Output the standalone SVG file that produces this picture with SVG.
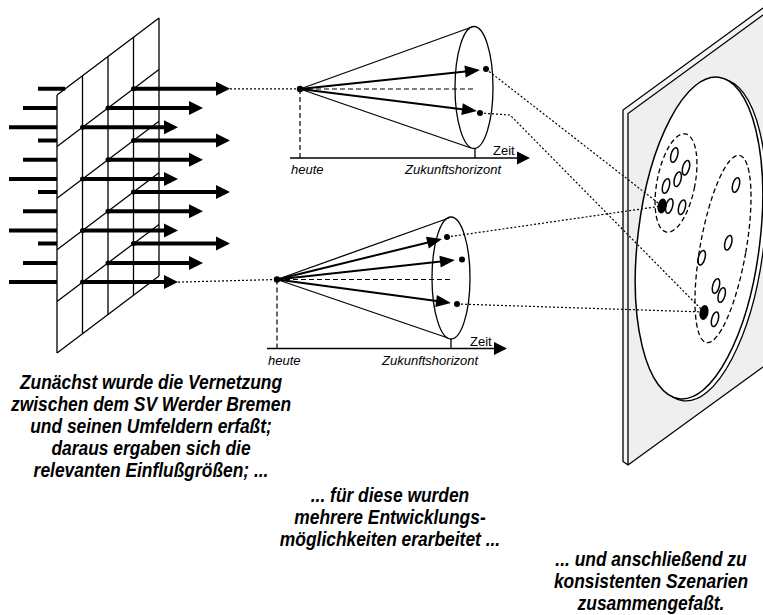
<svg xmlns="http://www.w3.org/2000/svg" width="763" height="615" viewBox="0 0 763 615">
<style>
.ln{stroke:#000;stroke-width:1.3;fill:none}
.thick{stroke:#000;stroke-width:4;fill:none}
.arr{stroke:#000;stroke-width:2;fill:none}
.dot{stroke:#000;stroke-width:1.2;stroke-dasharray:2 2;fill:none}
.dash{stroke:#000;stroke-width:1.2;stroke-dasharray:5 3;fill:none}
.cl{stroke:#000;stroke-width:1.3;stroke-dasharray:5 3;fill:none}
.sm{stroke:#000;stroke-width:1.5;fill:none}
.lbl{font-family:"Liberation Sans",Arial,sans-serif;font-size:13px;font-style:italic}
.zt{font-family:"Liberation Sans",Arial,sans-serif;font-size:13px}
.big{font-family:"Liberation Sans",Arial,sans-serif;font-size:20px;font-weight:bold;font-style:italic;text-anchor:middle}
</style>
<defs>
<marker id="bh" markerUnits="userSpaceOnUse" markerWidth="15" markerHeight="15" refX="4" refY="7" orient="auto" overflow="visible"><path d="M0,0 L14,7 L0,14 z" fill="#000"/></marker>
<marker id="ch" markerUnits="userSpaceOnUse" markerWidth="16" markerHeight="13" refX="10" refY="6" orient="auto" overflow="visible"><path d="M0,0 L15,6 L0,12 z" fill="#000"/></marker>
<marker id="xh" markerUnits="userSpaceOnUse" markerWidth="14" markerHeight="14" refX="5" refY="6.5" orient="auto" overflow="visible"><path d="M0,0 L13,6.5 L0,13 z" fill="#000"/></marker>
</defs>

<g id="grid">
  <path class="thick" d="M38,88.8H65.2 M23,108.1H57 M9,127.3H57 M38,140.4H57 M23,159.7H57 M9,179H57 M38,192H57 M23,211.3H57 M9,230.5H57 M38,243.6H57 M23,262.9H57 M9,282.1H57"/>
  <path class="ln" d="M57,95V353 M82.5,75.7V333.7 M108,56.5V314.5 M133.5,37.2V295.2 M159,18V276"/>
  <path class="ln" d="M57,95L159,18 M57,146.6L159,69.6 M57,198.2L159,121.2 M57,249.8L159,172.8 M57,301.4L159,224.4 M57,353L159,276"/>
  <g marker-end="url(#bh)">
    <path class="thick" d="M133.5,88.8H220"/>
    <path class="thick" d="M108,108.1H193"/>
    <path class="thick" d="M82.5,127.3H168"/>
    <path class="thick" d="M133.5,140.4H220"/>
    <path class="thick" d="M108,159.7H193"/>
    <path class="thick" d="M82.5,179H168"/>
    <path class="thick" d="M133.5,192H220"/>
    <path class="thick" d="M108,211.3H193"/>
    <path class="thick" d="M82.5,230.5H168"/>
    <path class="thick" d="M133.5,243.6H220"/>
    <path class="thick" d="M108,262.9H193"/>
    <path class="thick" d="M82.5,282.1H168"/>
  </g>
  <g fill="#000">
    <circle cx="133.5" cy="88.8" r="2.5"/><circle cx="108" cy="108.1" r="2.5"/><circle cx="82.5" cy="127.3" r="2.5"/>
    <circle cx="133.5" cy="140.4" r="2.5"/><circle cx="108" cy="159.7" r="2.5"/><circle cx="82.5" cy="179" r="2.5"/>
    <circle cx="133.5" cy="192" r="2.5"/><circle cx="108" cy="211.3" r="2.5"/><circle cx="82.5" cy="230.5" r="2.5"/>
    <circle cx="133.5" cy="243.6" r="2.5"/><circle cx="108" cy="262.9" r="2.5"/><circle cx="82.5" cy="282.1" r="2.5"/>
  </g>
</g>

<g id="cone-top">
  <ellipse class="ln" cx="474" cy="87.5" rx="19" ry="61"/>
  <path class="ln" d="M300,89L472,27 M300,89L471,148"/>
  <path class="dash" d="M300,89H473 M300,89V158"/>
  <path class="arr" d="M300,89L475,70.5" marker-end="url(#ch)"/>
  <path class="arr" d="M300,89L472,110.4" marker-end="url(#ch)"/>
  <circle cx="300" cy="89" r="3.2"/>
  <circle cx="486" cy="69" r="3"/>
  <circle cx="480" cy="113" r="3"/>
  <path class="ln" d="M475,148.5V158"/>
  <path stroke="#000" stroke-width="1.7" d="M290,158H522" marker-end="url(#xh)"/>
  <text class="zt" x="493" y="155">Zeit</text>
  <text class="lbl" x="291" y="174">heute</text>
  <text class="lbl" x="405" y="174">Zukunftshorizont</text>
</g>

<g id="cone-bottom">
  <ellipse class="ln" cx="451" cy="278" rx="19" ry="61"/>
  <path class="ln" d="M277,279.5L449,218 M277,279.5L448,338"/>
  <path class="dash" d="M277,279.5H450 M277,279.5V348.5"/>
  <path class="arr" d="M277,279.5L437.1,240.2" marker-end="url(#ch)"/>
  <path class="arr" d="M277,279.5L450,260.5" marker-end="url(#ch)"/>
  <path class="arr" d="M277,279.5L446,302.3" marker-end="url(#ch)"/>
  <circle cx="277" cy="279.5" r="3.2"/>
  <circle cx="447" cy="237" r="3"/>
  <circle cx="462" cy="259.5" r="3"/>
  <circle cx="457" cy="304" r="3"/>
  <path class="ln" d="M451,339V348.5"/>
  <path stroke="#000" stroke-width="1.7" d="M267,348.5H499" marker-end="url(#xh)"/>
  <text class="zt" x="470" y="345.5">Zeit</text>
  <text class="lbl" x="268" y="364.5">heute</text>
  <text class="lbl" x="382" y="364.5">Zukunftshorizont</text>
</g>

<g id="panel">
  <polygon points="628,113.5 763,15 763,367 628,465" fill="#efefef"/>
  <polygon points="623,110 628,113.5 628,465 623,461.5" fill="#f4f4f4"/>
  <polygon points="623,110 763,8 763,15 628,113.5" fill="#f4f4f4"/>
  <path class="ln" d="M763,8L623,110V461.5L628,465L763,367 M763,15L628,113.5V465"/>
  <ellipse cx="703" cy="240" rx="61" ry="162" transform="rotate(7 703 240)" fill="#fff" stroke="#000" stroke-width="1.3"/>
  <ellipse cx="699" cy="238" rx="61" ry="162" transform="rotate(7 699 238)" fill="#fff" stroke="#000" stroke-width="1.5"/>
  <ellipse class="cl" cx="676" cy="183" rx="19" ry="50" transform="rotate(11 676 183)"/>
  <ellipse class="cl" cx="723" cy="249" rx="23" ry="95" transform="rotate(10 723 249)"/>
  <g class="sm">
    <ellipse cx="674.3" cy="155" rx="3.3" ry="7.5" transform="rotate(15 674.3 155)"/>
    <ellipse cx="686" cy="167.7" rx="3.3" ry="7.5" transform="rotate(15 686 167.7)"/>
    <ellipse cx="677.7" cy="179.3" rx="3.3" ry="7.5" transform="rotate(15 677.7 179.3)"/>
    <ellipse cx="666" cy="186" rx="3.3" ry="7.5" transform="rotate(15 666 186)"/>
    <ellipse cx="669.3" cy="206" rx="3.3" ry="7.5" transform="rotate(15 669.3 206)"/>
    <ellipse cx="682" cy="207.3" rx="3.3" ry="7.5" transform="rotate(15 682 207.3)"/>
    <ellipse cx="736" cy="185" rx="3.3" ry="7.5" transform="rotate(15 736 185)"/>
    <ellipse cx="728.3" cy="242.7" rx="3.3" ry="7.5" transform="rotate(15 728.3 242.7)"/>
    <ellipse cx="701.7" cy="257.7" rx="3.3" ry="7.5" transform="rotate(15 701.7 257.7)"/>
    <ellipse cx="716" cy="286" rx="3.3" ry="7.5" transform="rotate(15 716 286)"/>
    <ellipse cx="721.7" cy="295" rx="3.3" ry="7.5" transform="rotate(15 721.7 295)"/>
    <ellipse cx="715" cy="319.3" rx="3.3" ry="7.5" transform="rotate(15 715 319.3)"/>
  </g>
  <ellipse cx="662" cy="206" rx="4.5" ry="7.5" transform="rotate(10 662 206)" fill="#000"/>
  <ellipse cx="704" cy="312.5" rx="4.5" ry="7.5" transform="rotate(10 704 312.5)" fill="#000"/>
</g>

<g id="connectors">
  <path class="dot" d="M230,88.9H300"/>
  <path class="dot" d="M178,282.1L277,279.5"/>
  <path class="dot" d="M486,69L662,206"/>
  <path class="dot" d="M480,113L510,115L704,312"/>
  <path class="dot" d="M447,237L662,206"/>
  <path class="dot" d="M457,304L704,312"/>
</g>

<g id="text1" transform="scale(0.87,1)">
  <text class="big" x="173.6" y="389">Zunächst wurde die Vernetzung</text>
  <text class="big" x="173.6" y="411">zwischen dem SV Werder Bremen</text>
  <text class="big" x="173.6" y="433">und seinen Umfeldern erfaßt;</text>
  <text class="big" x="173.6" y="455">daraus ergaben sich die</text>
  <text class="big" x="173.6" y="477">relevanten Einflußgrößen; ...</text>
</g>
<g id="text2" transform="scale(0.87,1)">
  <text class="big" x="448.3" y="502">... für diese wurden</text>
  <text class="big" x="448.3" y="524">mehrere Entwicklungs-</text>
  <text class="big" x="448.3" y="546">möglichkeiten erarbeitet ...</text>
</g>
<g id="text3" transform="scale(0.87,1)">
  <text class="big" x="748.3" y="566">... und anschließend zu</text>
  <text class="big" x="748.3" y="588">konsistenten Szenarien</text>
  <text class="big" x="748.3" y="610">zusammengefaßt.</text>
</g>
</svg>
